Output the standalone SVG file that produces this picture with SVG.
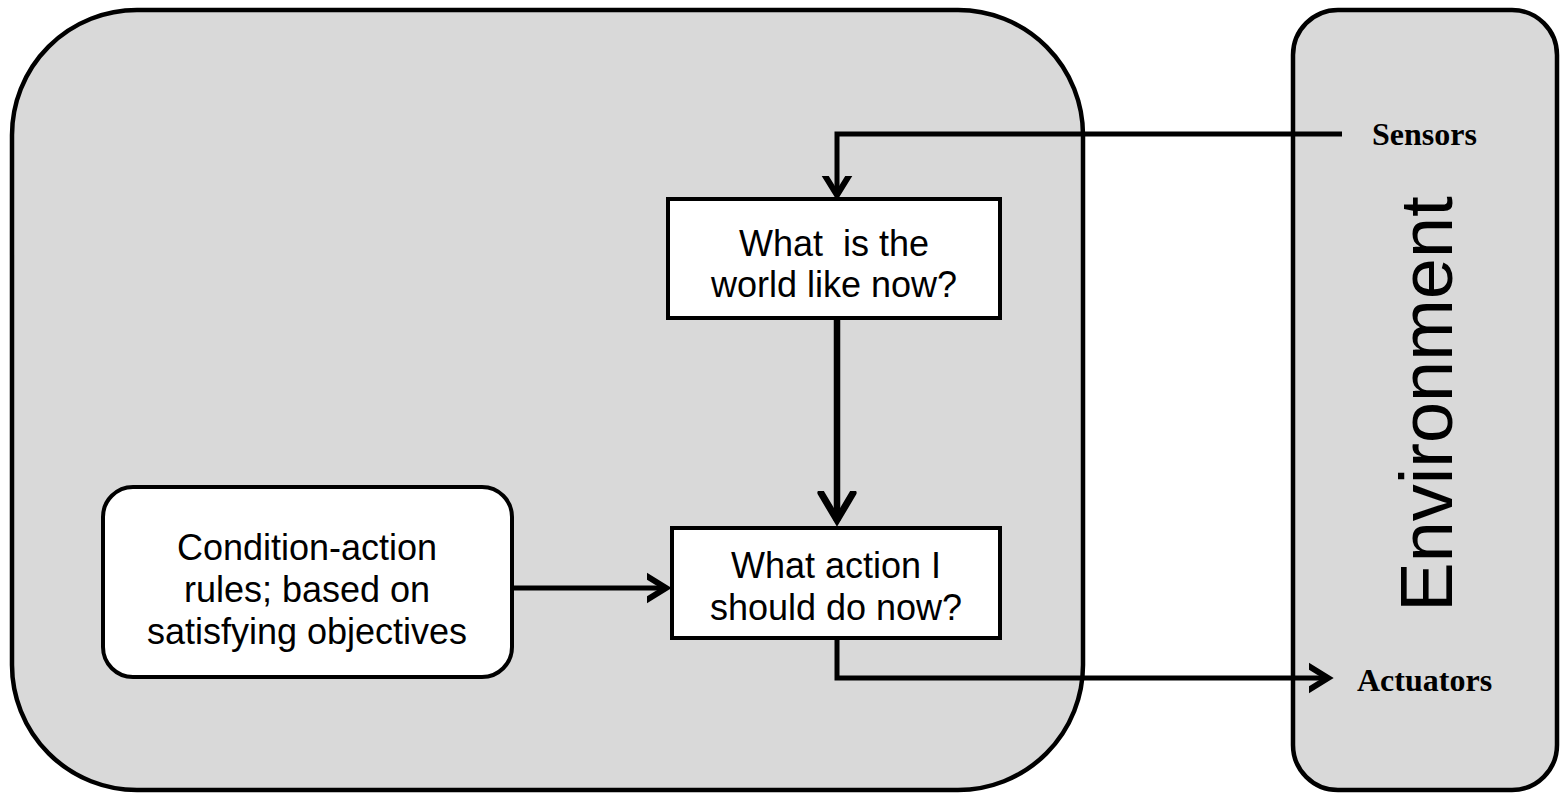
<svg xmlns="http://www.w3.org/2000/svg" width="1560" height="802" viewBox="0 0 1560 802">
<style>
.big{fill:#d9d9d9;stroke:#000;stroke-width:4.5}
.box{fill:#fff;stroke:#000;stroke-width:4}
.t{font-family:"Liberation Sans",Arial,sans-serif;font-size:36px;fill:#000;text-anchor:middle}
.lbl{font-family:"Liberation Serif","Times New Roman",serif;font-size:32px;font-weight:bold;fill:#000}
.ln{fill:none;stroke:#000;stroke-width:5;stroke-linejoin:miter}
.thick{stroke-width:6.5}
</style>
<defs>
<marker id="ah" markerUnits="userSpaceOnUse" markerWidth="40" markerHeight="40" refX="20" refY="20" orient="auto" viewBox="0 0 40 40">
<path d="M-2,7 L19,20 L-2,33" fill="none" stroke="#000" stroke-width="6" stroke-linecap="round" stroke-linejoin="miter"/>
</marker>
<marker id="ahL" markerUnits="userSpaceOnUse" markerWidth="50" markerHeight="50" refX="30" refY="25" orient="auto" viewBox="0 0 50 50">
<path d="M2,9 L29,25 L2,41" fill="none" stroke="#000" stroke-width="7" stroke-linecap="round" stroke-linejoin="miter"/>
</marker>
</defs>
<g id="agent"><rect class="big" x="12" y="10" width="1071" height="780" rx="125" ry="125"/></g>
<g id="environment">
<rect class="big" x="1293" y="10" width="264" height="780" rx="45" ry="45"/>
<text x="1452" y="404" font-family="Liberation Sans,Arial,sans-serif" font-size="74" text-anchor="middle" transform="rotate(-90 1452 404)">Environment</text>
<text class="lbl" x="1372" y="145">Sensors</text>
<text class="lbl" x="1357" y="691">Actuators</text>
</g>
<g id="world">
<rect class="box" x="668" y="199" width="332" height="119"/>
<text class="t" x="834" y="256" xml:space="preserve">What  is the</text>
<text class="t" x="834" y="297">world like now?</text>
</g>
<g id="action">
<rect class="box" x="672" y="528" width="328" height="110"/>
<text class="t" x="836" y="578">What action I</text>
<text class="t" x="836" y="620">should do now?</text>
</g>
<g id="rules">
<rect class="box" x="103" y="487" width="409" height="190" rx="30" ry="30"/>
<text class="t" x="307" y="560">Condition-action</text>
<text class="t" x="307" y="602">rules; based on</text>
<text class="t" x="307" y="644">satisfying objectives</text>
</g>
<g id="connectors">
<path class="ln" d="M1342,134 L837,134 L837,196" marker-end="url(#ah)"/>
<path class="ln thick" d="M837,318 L837,521" marker-end="url(#ahL)"/>
<path class="ln" d="M512,588 L667,588" marker-end="url(#ah)"/>
<path class="ln" d="M837,638 L837,678 L1329,678" marker-end="url(#ah)"/>
</g>
</svg>
